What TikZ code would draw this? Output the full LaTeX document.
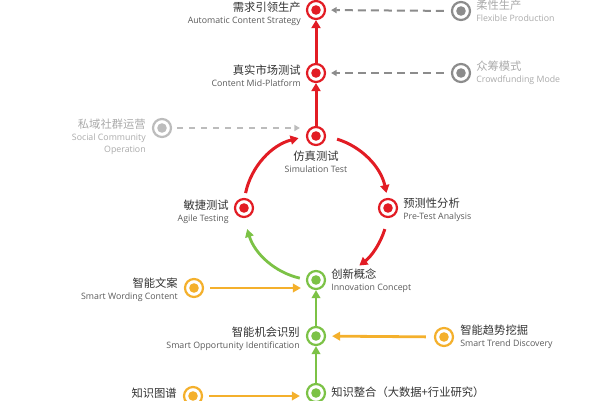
\documentclass[tikz,border=0pt]{standalone}
\usepackage{fontspec}
\setmainfont{Open Sans}
\newfontfamily\cjk{Noto Sans CJK SC}
\usetikzlibrary{positioning,arrows.meta}

\definecolor{hubred}{RGB}{226,28,36}
\definecolor{hubgreen}{RGB}{124,194,70}
\definecolor{huborange}{RGB}{244,176,44}
\definecolor{hubgray}{RGB}{140,140,140}
\definecolor{hubpale}{RGB}{188,188,188}
\definecolor{txtdark}{RGB}{50,50,50}
\definecolor{txtmid}{RGB}{90,90,90}
\definecolor{txtpale}{RGB}{170,170,170}

\newcommand{\zh}[1]{{\cjk\fontsize{11.3}{12}\selectfont #1}}
\newcommand{\en}[1]{{\fontsize{8.8}{12}\selectfont #1}}

\begin{document}
\begin{tikzpicture}[x=1pt,y=1pt,
  hub/.style={circle,draw=#1,fill=white,line width=2.2pt,minimum size=18pt,inner sep=0pt,
    path picture={\fill[#1] (path picture bounding box.center) circle (4.8pt);}},
  lbl/.style={inner sep=0pt,font=\fontsize{8.8}{12}\selectfont,text=txtmid},
  redarrow/.style={draw=hubred,line width=3pt,-{Triangle[length=8pt,width=9pt]}},
  greenarrow/.style={draw=hubgreen,line width=2.8pt,-{Triangle[length=8pt,width=8.5pt]}},
  orangearrow/.style={draw=huborange,line width=2.8pt,-{Triangle[length=8pt,width=8.5pt]}},
  grayarrow/.style={draw=hubgray,line width=2pt,dash pattern=on 8pt off 5pt,
    -{Triangle[length=5.5pt,width=6pt]}}]
  \useasboundingbox (0,0) rectangle (600,400);

  \def\cx{316}
  \def\cy{192}
  \def\r{72}
  \coordinate (c) at (\cx,\cy);

  % main column
  \node[hub=hubred] (dem) at (\cx,390) {};
  \node[hub=hubred] (real) at (\cx,327) {};
  \node[hub=hubred] (sim) at (\cx,\cy+\r) {};
  \node[hub=hubred] (agile) at (\cx-\r,\cy) {};
  \node[hub=hubred] (pred) at (\cx+\r,\cy) {};
  \node[hub=hubgreen] (innov) at (\cx,\cy-\r) {};
  \node[hub=hubgreen] (opp) at (\cx,64) {};
  \node[hub=hubgreen] (know) at (\cx,7) {};

  % side inputs
  \node[hub=hubgray] (flex) at (461,389) {};
  \node[hub=hubgray] (crowd) at (461,327) {};
  \node[hub=hubpale] (social) at (162,272) {};
  \node[hub=huborange] (wording) at (194,112) {};
  \node[hub=huborange] (trend) at (444,63) {};
  \node[hub=huborange] (graph) at (193,4) {};

  % labels
  \node[lbl,left=5pt of dem,align=right,yshift=-4pt] (demtxt)
    {\zh{\textcolor{txtdark}{需求引领生产}}\\\en{Automatic Content Strategy}};
  \node[lbl,left=5pt of real,align=right,yshift=-3pt] (realtxt)
    {\zh{\textcolor{txtdark}{真实市场测试}}\\\en{Content Mid-Platform}};
  \node[lbl,below=5pt of sim,align=center] (simtxt)
    {\zh{\textcolor{txtdark}{仿真测试}}\\\en{Simulation Test}};
  \node[lbl,left=5pt of agile,align=right,yshift=-4pt] (agiletxt)
    {\zh{\textcolor{txtdark}{敏捷测试}}\\\en{Agile Testing}};
  \node[lbl,right=5pt of pred,align=left,yshift=-2pt] (predtxt)
    {\zh{\textcolor{txtdark}{预测性分析}}\\\en{Pre-Test Analysis}};
  \node[lbl,right=5pt of innov,align=left,yshift=-1pt] (innovtxt)
    {\zh{\textcolor{txtdark}{创新概念}}\\\en{Innovation Concept}};
  \node[lbl,left=6pt of opp,align=right,yshift=-3pt] (opptxt)
    {\zh{\textcolor{txtdark}{智能机会识别}}\\\en{Smart Opportunity Identification}};
  \node[lbl,right=5pt of know,anchor=west,yshift=1pt] (knowtxt)
    {\zh{\textcolor{txtdark}{知识整合（大数据+行业研究）}}};
  \node[lbl,right=5pt of flex,align=left,text=txtpale] (flextxt)
    {\zh{柔性生产}\\\en{Flexible Production}};
  \node[lbl,right=5pt of crowd,align=left,text=txtpale] (crowdtxt)
    {\zh{众筹模式}\\\en{Crowdfunding Mode}};
  \node[lbl,anchor=north east,align=right,text=txtpale] (socialtxt)
    at ([xshift=-6pt,yshift=9pt]social.west)
    {\zh{私域社群运营}\\\en{Social Community}\\\en{Operation}};
  \node[lbl,left=6pt of wording,align=right,yshift=-2pt] (wordingtxt)
    {\zh{\textcolor{txtdark}{智能文案}}\\\en{Smart Wording Content}};
  \node[lbl,right=6pt of trend,align=left] (trendtxt)
    {\zh{\textcolor{txtdark}{智能趋势挖掘}}\\\en{Smart Trend Discovery}};
  \node[lbl,left=6pt of graph,anchor=east,yshift=3pt] (graphtxt)
    {\zh{\textcolor{txtdark}{知识图谱}}};

  % red chain
  \draw[redarrow] (real) -- (dem);
  \draw[redarrow] (sim) -- (real);
  \draw[redarrow] ([shift={(168:\r)}]c) arc[start angle=168,end angle=104,radius=\r];
  \draw[redarrow] ([shift={(73:\r)}]c) arc[start angle=73,end angle=12,radius=\r];
  \draw[redarrow] ([shift={(-17:\r)}]c) arc[start angle=-17,end angle=-53,radius=\r];
  \draw[greenarrow] ([shift={(-103:\r)}]c) arc[start angle=257,end angle=197,radius=\r];

  % green chain
  \draw[greenarrow] (know) -- (opp);
  \draw[greenarrow] (opp) -- (innov);

  % dashed inputs
  \draw[grayarrow,shorten <=7pt,shorten >=5pt] (flex) -- (dem);
  \draw[grayarrow,shorten <=7pt,shorten >=5pt] (crowd) -- (real);
  \draw[grayarrow,draw=hubpale,line width=1.6pt,dash pattern=on 6pt off 6pt,
    shorten <=5pt,shorten >=6pt] (social) -- (social -| sim.west);

  % orange inputs
  \draw[orangearrow,shorten <=6pt,shorten >=5pt] (wording) -- (wording -| innov.west);
  \draw[orangearrow,shorten <=8pt,shorten >=6pt] (trend) -- (opp);
  \draw[orangearrow,shorten <=6pt,shorten >=6pt] (graph) -- (graph -| know.west);

\end{tikzpicture}
\end{document}
